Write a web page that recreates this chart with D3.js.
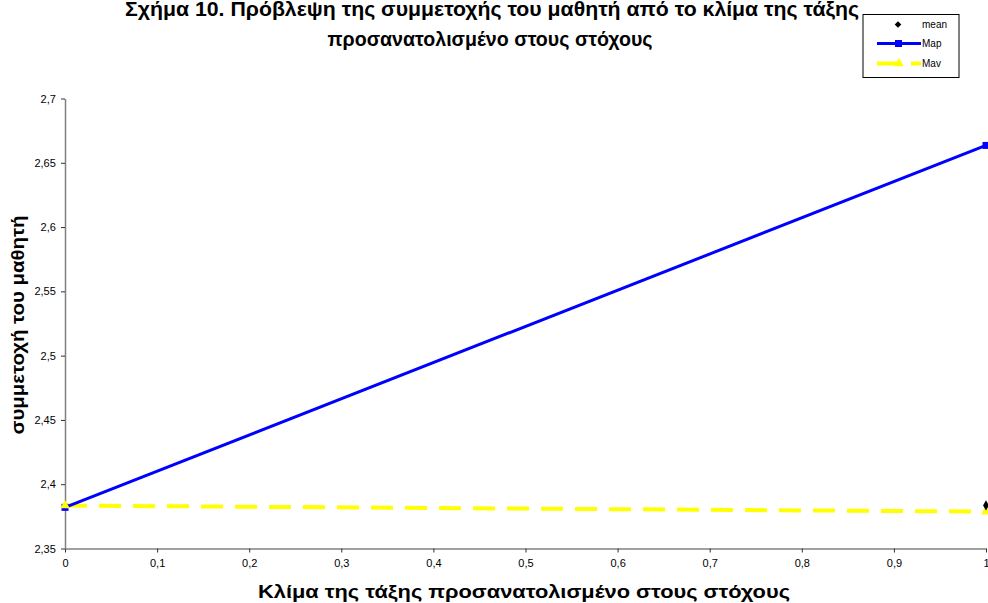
<!DOCTYPE html>
<html>
<head>
<meta charset="utf-8">
<script src="https://cdn.jsdelivr.net/npm/d3@7"></script>
<style>
  html, body { margin: 0; padding: 0; background: #fff; }
  svg { display: block; font-family: "Liberation Sans", Arial, sans-serif; }
</style>
</head>
<body>
<svg id="chart" width="988" height="603"></svg>
<script>
// Predicted student participation vs. goal-oriented classroom climate
const xTicks = [0, 0.1, 0.2, 0.3, 0.4, 0.5, 0.6, 0.7, 0.8, 0.9, 1];
const yTicks = [2.35, 2.4, 2.45, 2.5, 2.55, 2.6, 2.65, 2.7];

const mapX = [0, 1];
const mapY = [2.382, 2.6635];

const mavX = [0, 1];
const mavY = [2.3834, 2.3787];

const meanX = [1];
const meanY = [2.3835];

const seriesNames = ["mean", "Map", "Mav"];

const titleLines = [
  "Σχήμα 10. Πρόβλεψη της συμμετοχής του μαθητή από το κλίμα της τάξης",
  "προσανατολισμένο στους στόχους"
];
const xTitle = "Κλίμα της τάξης προσανατολισμένο στους στόχους";
const yTitle = "συμμετοχή του μαθητή";

const svg = d3.select("#chart");
const fmt = v => String(v).replace(".", ",");

const x = d3.scaleLinear().domain([0, 1]).range([65, 986]);
const y = d3.scaleLinear().domain([2.35, 2.7]).range([548.5, 98.5]);

// Title (two centred lines, condensed bold)
const titleLen = [734, 325];
svg.append("g").selectAll("text").data(titleLines).join("text")
  .attr("x", (d, i) => i === 0 ? 492 : 490).attr("y", (d, i) => 16 + i * 30)
  .attr("text-anchor", "middle")
  .attr("font-size", 20).attr("font-weight", "bold")
  .attr("textLength", (d, i) => titleLen[i]).attr("lengthAdjust", "spacingAndGlyphs")
  .text(d => d);

// Axes
const axisColor = "#808080";
const gx = svg.append("g").attr("transform", `translate(0,${y(2.35)})`)
  .call(d3.axisBottom(x).tickValues(xTicks).tickFormat(fmt).tickSize(4).tickSizeOuter(0));
const gy = svg.append("g").attr("transform", `translate(${x(0)},0)`)
  .call(d3.axisLeft(y).tickValues(yTicks).tickFormat(fmt).tickSize(4).tickSizeOuter(0));
[gx, gy].forEach(g => {
  g.select(".domain").attr("stroke", axisColor).attr("stroke-width", 1.5);
  g.selectAll(".tick line").attr("stroke", "#333");
  g.selectAll(".tick text").attr("font-family", "Liberation Sans, Arial, sans-serif")
    .attr("font-size", 11).attr("fill", "#000");
});
gx.selectAll(".tick text").attr("dy", "1.05em");
gy.selectAll(".tick text").attr("dx", "-0.2em");

// Axis titles
svg.append("text").attr("x", 524).attr("y", 598)
  .attr("text-anchor", "middle").attr("font-size", 18).attr("font-weight", "bold")
  .attr("textLength", 532).attr("lengthAdjust", "spacingAndGlyphs")
  .text(xTitle);
svg.append("text")
  .attr("transform", `translate(24,${325}) rotate(-90)`)
  .attr("text-anchor", "middle").attr("font-size", 18).attr("font-weight", "bold")
  .attr("textLength", 219).attr("lengthAdjust", "spacingAndGlyphs")
  .text(yTitle);

const line = d3.line().x(d => x(d[0])).y(d => y(d[1]));

// Mav series (dashed yellow with triangle end markers)
const mavPts = mavX.map((v, i) => [v, mavY[i]]);
svg.append("path").datum(mavPts).attr("d", line)
  .attr("fill", "none").attr("stroke", "#ffff00").attr("stroke-width", 4)
  .attr("stroke-dasharray", "22,12");

// Map series (solid blue with square markers)
const mapPts = mapX.map((v, i) => [v, mapY[i]]);
svg.append("path").datum(mapPts).attr("d", line)
  .attr("fill", "none").attr("stroke", "#0000ff").attr("stroke-width", 3);
svg.append("g").selectAll("rect").data(mapPts).join("rect")
  .attr("x", d => x(d[0]) - 3.5).attr("y", d => y(d[1]) - 3.5)
  .attr("width", 7).attr("height", 7).attr("fill", "#0000ff");

const tri = d3.symbol().type(d3.symbolTriangle).size(40);
svg.append("g").selectAll("path").data(mavPts).join("path")
  .attr("transform", d => `translate(${x(d[0])},${y(d[1])})`)
  .attr("d", tri).attr("fill", "#ffff00");

// Mean point
const diamond = d3.symbol().type(d3.symbolDiamond).size(30);
svg.append("g").selectAll("path").data(meanX.map((v, i) => [v, meanY[i]])).join("path")
  .attr("transform", d => `translate(${x(d[0])},${y(d[1])})`)
  .attr("d", diamond).attr("fill", "#000");

// Legend
const lg = svg.append("g").attr("transform", "translate(863,14.5)");
lg.append("rect").attr("width", 96).attr("height", 63)
  .attr("fill", "#fff").attr("stroke", "#000").attr("stroke-width", 1);
const rowY = [10, 29, 49];
const legDiamond = d3.symbol().type(d3.symbolSquare).size(22);
seriesNames.forEach((name, i) => {
  const g = lg.append("g").attr("transform", `translate(0,${rowY[i]})`);
  if (name === "mean") {
    g.append("path").attr("transform", "translate(35,0) rotate(45)").attr("d", legDiamond).attr("fill", "#000");
  } else if (name === "Map") {
    g.append("line").attr("x1", 14).attr("x2", 58).attr("stroke", "#0000ff").attr("stroke-width", 3);
    g.append("rect").attr("x", 32).attr("y", -3.5).attr("width", 7).attr("height", 7).attr("fill", "#0000ff");
  } else {
    g.append("line").attr("x1", 14).attr("x2", 58).attr("stroke", "#ffff00").attr("stroke-width", 4)
      .attr("stroke-dasharray", "22,12");
    g.append("path").attr("transform", "translate(36,0)").attr("d", tri).attr("fill", "#ffff00");
  }
  g.append("text").attr("x", 59).attr("y", 3.5).attr("font-size", 10).text(name);
});
</script>
</body>
</html>
